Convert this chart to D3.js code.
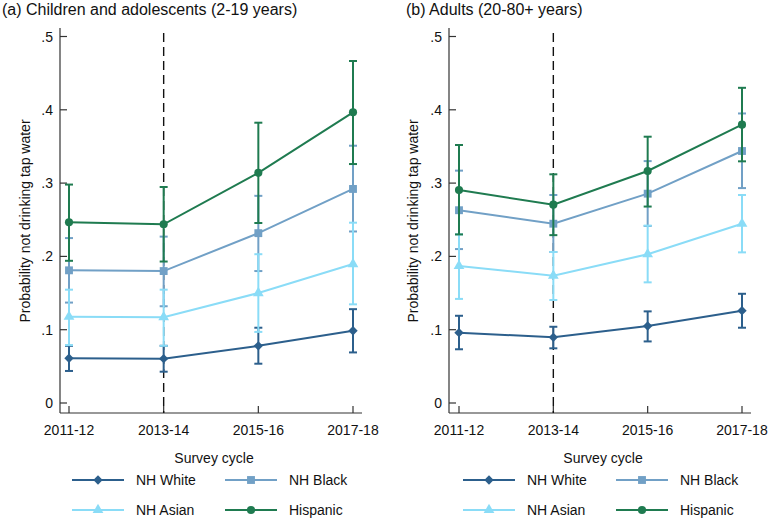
<!DOCTYPE html>
<html><head><meta charset="utf-8">
<script src="https://cdn.jsdelivr.net/npm/d3@7"></script>
<style>body{margin:0;background:#fff}svg{display:block;font-family:"Liberation Sans",Arial,Helvetica,sans-serif}</style>
</head><body><svg id="c" width="770" height="520"></svg>
<script>
const cycles = ["2011-12","2013-14","2015-16","2017-18"];
const yTicks = [0,0.1,0.2,0.3,0.4,0.5];
const yTickLabels = ["0",".1",".2",".3",".4",".5"];
const seriesNames = ["NH White","NH Black","NH Asian","Hispanic"];
const seriesColors = ["#2c5f8c","#71a0c6","#8adcf7","#1f7b50"];
const seriesSymbols = ["diamond","square","triangle","circle"];

// Children and adolescents
const childWhite = [0.061, 0.0605, 0.078, 0.0986];
const childWhiteLo = [0.0437, 0.0427, 0.0536, 0.069];
const childWhiteHi = [0.078, 0.078, 0.1027, 0.128];
const childBlack = [0.181, 0.180, 0.2317, 0.292];
const childBlackLo = [0.137, 0.132, 0.180, 0.234];
const childBlackHi = [0.225, 0.227, 0.2826, 0.351];
const childAsian = [0.1177, 0.117, 0.150, 0.1896];
const childAsianLo = [0.079, 0.078, 0.097, 0.1346];
const childAsianHi = [0.1546, 0.1546, 0.203, 0.246];
const childHisp = [0.2465, 0.2438, 0.314, 0.3966];
const childHispLo = [0.194, 0.193, 0.2456, 0.326];
const childHispHi = [0.298, 0.2947, 0.3824, 0.4666];

// Adults
const adultWhite = [0.096, 0.0896, 0.105, 0.126];
const adultWhiteLo = [0.0733, 0.0746, 0.084, 0.1027];
const adultWhiteHi = [0.119, 0.104, 0.125, 0.149];
const adultBlack = [0.263, 0.2446, 0.2856, 0.3438];
const adultBlackLo = [0.210, 0.206, 0.2415, 0.2932];
const adultBlackHi = [0.317, 0.2838, 0.330, 0.395];
const adultAsian = [0.187, 0.1737, 0.203, 0.2446];
const adultAsianLo = [0.142, 0.1405, 0.1646, 0.2055];
const adultAsianHi = [0.230, 0.206, 0.242, 0.2838];
const adultHisp = [0.2905, 0.2706, 0.3165, 0.3797];
const adultHispLo = [0.230, 0.229, 0.268, 0.3297];
const adultHispHi = [0.352, 0.312, 0.3633, 0.430];

const panels = [
  {title:"(a) Children and adolescents (2-19 years)", titleX:2, axisX:60, x0:69, x1:353, axisEnd:362, ytitleX:25,
   series:[[childWhite,childWhiteLo,childWhiteHi],[childBlack,childBlackLo,childBlackHi],[childAsian,childAsianLo,childAsianHi],[childHisp,childHispLo,childHispHi]],
   legX:[72,225]},
  {title:"(b) Adults (20-80+ years)", titleX:406, axisX:449, x0:459, x1:742, axisEnd:751, ytitleX:413,
   series:[[adultWhite,adultWhiteLo,adultWhiteHi],[adultBlack,adultBlackLo,adultBlackHi],[adultAsian,adultAsianLo,adultAsianHi],[adultHisp,adultHispLo,adultHispHi]],
   legX:[463,616]}
];

const svg = d3.select("#c");
const y = d3.scaleLinear().domain([0,0.5]).range([403,36.5]);
const axisBottom = 413, axisTop = 28;
const axisColor = "#333";

function symbolPath(kind){
  if(kind==="diamond") return d3.symbol().type(d3.symbolSquare).size(44)();
  if(kind==="square") return d3.symbol().type(d3.symbolSquare).size(62)();
  if(kind==="triangle") return d3.symbol().type(d3.symbolTriangle).size(50)();
  return d3.symbol().type(d3.symbolCircle).size(52)();
}
function drawMarker(g, kind, cx, cy, color){
  g.append("path").attr("d", symbolPath(kind))
    .attr("transform", `translate(${cx},${cy})` + (kind==="diamond" ? " rotate(45)" : ""))
    .attr("fill", color).attr("stroke","none");
}

panels.forEach(p => {
  const g = svg.append("g");
  const x = d3.scalePoint().domain(cycles).range([p.x0, p.x1]);

  g.append("text").attr("x", p.titleX).attr("y", 15).attr("font-size", 16).attr("fill","#111").text(p.title);

  // y axis
  g.append("line").attr("x1",p.axisX).attr("x2",p.axisX).attr("y1",axisTop).attr("y2",axisBottom).attr("stroke",axisColor).attr("stroke-width",1.2);
  yTicks.forEach((t,i) => {
    g.append("line").attr("x1",p.axisX).attr("x2",p.axisX+7).attr("y1",y(t)).attr("y2",y(t)).attr("stroke",axisColor).attr("stroke-width",1.2);
    g.append("text").attr("x",p.axisX-7).attr("y",y(t)+5).attr("text-anchor","end").attr("font-size",14).attr("fill","#111").text(yTickLabels[i]);
  });
  // x axis
  g.append("line").attr("x1",p.axisX).attr("x2",p.axisEnd).attr("y1",axisBottom).attr("y2",axisBottom).attr("stroke",axisColor).attr("stroke-width",1.2);
  cycles.forEach(c => {
    g.append("line").attr("x1",x(c)).attr("x2",x(c)).attr("y1",axisBottom).attr("y2",axisBottom-7).attr("stroke",axisColor).attr("stroke-width",1.2);
    g.append("text").attr("x",x(c)).attr("y",435).attr("text-anchor","middle").attr("font-size",14).attr("fill","#111").text(c);
  });
  g.append("text").attr("x",(p.axisX+p.axisEnd)/2+3).attr("y",463).attr("text-anchor","middle").attr("font-size",14).attr("fill","#111").text("Survey cycle");
  g.append("text").attr("transform",`translate(${p.ytitleX+5},221) rotate(-90)`).attr("text-anchor","middle").attr("font-size",14).attr("fill","#111").text("Probability not drinking tap water");

  // dashed reference line
  g.append("line").attr("x1",x("2013-14")).attr("x2",x("2013-14")).attr("y1",33).attr("y2",axisBottom)
    .attr("stroke","#111").attr("stroke-width",1.4).attr("stroke-dasharray","9,5");

  // series
  p.series.forEach((s,si) => {
    const [vals, lo, hi] = s;
    const col = seriesColors[si];
    cycles.forEach((c,i) => {
      g.append("line").attr("x1",x(c)).attr("x2",x(c)).attr("y1",y(lo[i])).attr("y2",y(hi[i])).attr("stroke",col).attr("stroke-width",2);
      [lo[i],hi[i]].forEach(v => g.append("line").attr("x1",x(c)-4).attr("x2",x(c)+4).attr("y1",y(v)).attr("y2",y(v)).attr("stroke",col).attr("stroke-width",2));
    });
    g.append("path").datum(vals).attr("fill","none").attr("stroke",col).attr("stroke-width",2)
      .attr("d", d3.line().x((d,i)=>x(cycles[i])).y(d=>y(d)));
    vals.forEach((v,i) => drawMarker(g, seriesSymbols[si], x(cycles[i]), y(v), col));
  });

  // legend
  seriesNames.forEach((n,si) => {
    const lx = p.legX[si%2], ly = si<2 ? 480 : 510;
    const col = seriesColors[si];
    g.append("line").attr("x1",lx).attr("x2",lx+52).attr("y1",ly).attr("y2",ly).attr("stroke",col).attr("stroke-width",2);
    drawMarker(g, seriesSymbols[si], lx+26, ly, col);
    g.append("text").attr("x",lx+64).attr("y",ly+5).attr("font-size",14).attr("fill","#111").text(n);
  });
});
</script></body></html>
